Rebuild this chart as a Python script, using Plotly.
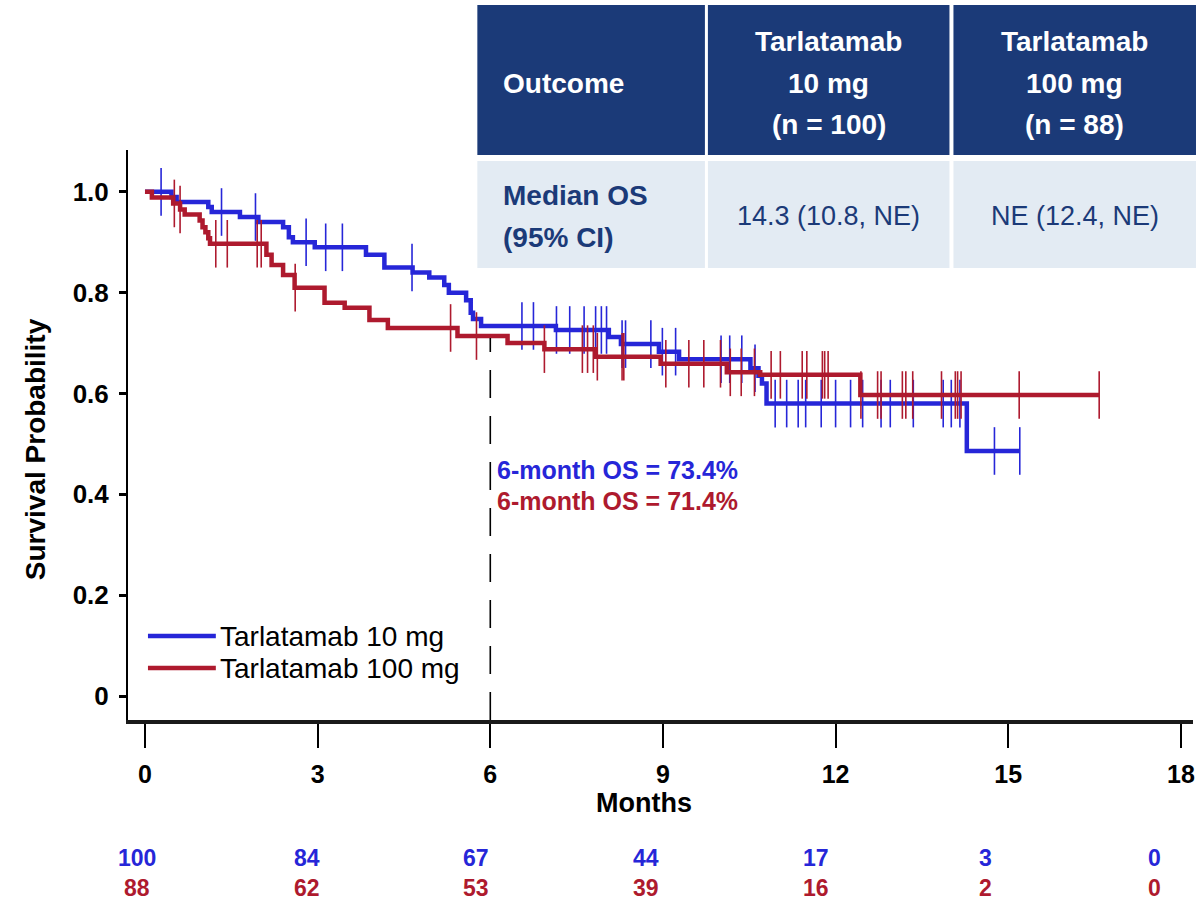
import plotly.graph_objects as go
import numpy as np

# ---------------- data ----------------
# Tarlatamab 10 mg: KM step times (months) and survival
t10 = [0, 0.46, 0.55, 1.10, 1.16, 1.65, 1.97, 2.40, 2.50, 2.57, 2.95, 3.84, 4.16, 4.65, 4.94,
       5.20, 5.28, 5.58, 5.66, 5.70, 5.84, 7.14, 8.06, 8.27, 8.93, 9.28, 10.52, 10.66, 10.72,
       10.80, 14.28, 15.20]
s10 = [1.00, 0.99, 0.98, 0.97, 0.96, 0.95, 0.94, 0.93, 0.91, 0.90, 0.89, 0.875, 0.85, 0.84, 0.83,
       0.815, 0.80, 0.785, 0.76, 0.748, 0.734, 0.726, 0.712, 0.698, 0.683, 0.668, 0.650, 0.635, 0.62,
       0.58, 0.486, 0.486]
c10 = [0.28, 1.33, 1.92, 2.80, 3.14, 3.43, 4.64, 6.55, 6.75, 7.15, 7.38, 7.63, 7.83, 7.93, 8.02,
       8.29, 8.35, 8.79, 8.99, 9.22, 10.01, 10.16, 10.37, 10.60, 10.95, 11.15, 11.35, 11.48, 11.75,
       12.00, 12.26, 12.47, 12.79, 12.95, 13.35, 13.87, 14.01, 14.16, 14.76, 15.20]

# Tarlatamab 100 mg
t100 = [0, 0.12, 0.49, 0.61, 0.69, 0.95, 1.00, 1.05, 1.10, 1.13, 2.11, 2.20, 2.40, 2.60, 3.12,
        3.47, 3.90, 4.22, 5.43, 6.30, 6.94, 7.83, 8.96, 10.11, 10.69, 12.43, 16.58]
s100 = [1.00, 0.989, 0.977, 0.965, 0.955, 0.943, 0.93, 0.92, 0.908, 0.897, 0.875, 0.855, 0.835,
        0.81, 0.78, 0.77, 0.746, 0.73, 0.714, 0.70, 0.688, 0.673, 0.659, 0.642, 0.637, 0.597, 0.597]
c100 = [0.51, 0.61, 1.23, 1.43, 1.95, 2.02, 2.61, 5.31, 5.76, 6.94, 7.60, 7.69, 7.79, 7.86, 8.29,
        8.32, 9.05, 9.45, 9.71, 10.00, 10.17, 10.36, 10.59, 10.88, 11.04, 11.42, 11.50, 11.77, 11.81,
        11.87, 12.44, 12.73, 12.79, 13.16, 13.22, 13.34, 13.84, 14.08, 14.12, 14.18, 15.19, 16.58]

risk_times = [0, 3, 6, 9, 12, 15, 18]
risk10 = [100, 84, 67, 44, 17, 3, 0]
risk100 = [88, 62, 53, 39, 16, 2, 0]

series_names = ["Tarlatamab 10 mg", "Tarlatamab 100 mg"]
os6_labels = ["6-month OS = 73.4%", "6-month OS = 71.4%"]

table_header = [["Outcome"], ["Tarlatamab", "10 mg", "(n = 100)"], ["Tarlatamab", "100 mg", "(n = 88)"]]
table_row = [["Median OS", "(95% CI)"], ["14.3 (10.8, NE)"], ["NE (12.4, NE)"]]

BLUE = "#2626D8"
RED = "#AE1A2E"
NAVY = "#1B3A78"
LIGHT = "#E3EBF3"
FONT = "Liberation Sans, Arial"


def step_value(times, surv, x):
    idx = np.searchsorted(np.array(times), x, side="right") - 1
    return [surv[i] for i in idx]


fig = go.Figure()
for t, s, c, col, name in [(t10, s10, c10, BLUE, series_names[0]),
                           (t100, s100, c100, RED, series_names[1])]:
    fig.add_trace(go.Scatter(x=t, y=s, mode="lines", line=dict(color=col, width=4.5, shape="hv"),
                             name=name, showlegend=False))
    fig.add_trace(go.Scatter(x=c, y=step_value(t, s, c), mode="markers",
                             marker=dict(symbol="line-ns", size=34, line=dict(color=col, width=1.6)),
                             showlegend=False, hoverinfo="skip"))

# plot geometry (pixels)
W, H = 1198, 901
ML, MR, MT, MB = 128, 3, 150, 181
PW, PH = W - ML - MR, H - MT - MB


def px(x):
    return (x - ML) / PW


def py(y):
    return (H - MB - y) / PH


YMIN, YMAX = -0.0476, 1.083
XMIN, XMAX = -0.295, 18.21

shapes = []
# dashed reference line at 6 months
s6 = step_value(t100, s100, [6])[0]
shapes.append(dict(type="line", xref="x", yref="y", x0=6, x1=6, y0=YMIN, y1=s6 - 0.004,
                   line=dict(color="black", width=1.6, dash="28px,18px")))

# legend (manual)
for i, (col, name) in enumerate([(BLUE, series_names[0]), (RED, series_names[1])]):
    yy = 636 + 32 * i
    shapes.append(dict(type="line", xref="paper", yref="paper", x0=px(148), x1=px(216),
                       y0=py(yy), y1=py(yy), line=dict(color=col, width=4.5)))

# table
cols = [(478, 706), (709, 951), (955, 1198)]
for (x0, x1) in cols:
    shapes.append(dict(type="rect", xref="paper", yref="paper", x0=px(x0), x1=px(x1),
                       y0=py(155), y1=py(5), fillcolor=NAVY, line=dict(width=0), layer="above"))
    shapes.append(dict(type="rect", xref="paper", yref="paper", x0=px(x0), x1=px(x1),
                       y0=py(268), y1=py(161), fillcolor=LIGHT, line=dict(width=0), layer="above"))

annotations = []


def ann(x, y, text, size, color, xanchor="center", xref="paper", **kw):
    annotations.append(dict(x=x, y=y, xref=xref, yref="paper", text=text, showarrow=False,
                            xanchor=xanchor, yanchor="middle",
                            font=dict(family=FONT, size=size, color=color), **kw))


for i, (col, name) in enumerate([(BLUE, series_names[0]), (RED, series_names[1])]):
    ann(px(218), py(636 + 32 * i), name, 28, "black", xanchor="left")
for i, (col, lab) in enumerate([(BLUE, os6_labels[0]), (RED, os6_labels[1])]):
    ann(6, py(470 + 31 * i), "<b>%s</b>" % lab, 25, col, xanchor="left", xref="x", xshift=5)

# at-risk numbers
for t, a, b in zip(risk_times, risk10, risk100):
    ann(t, py(858), "<b>%d</b>" % a, 23, BLUE, xref="x", xshift=-8 - t)
    ann(t, py(888), "<b>%d</b>" % b, 23, RED, xref="x", xshift=-8 - t)

# table text
LINE = 41.5
for (x0, x1), lines in zip(cols, table_header):
    n = len(lines)
    for k, ln in enumerate(lines):
        yy = 83 + (k - (n - 1) / 2) * LINE
        if x0 == cols[0][0]:
            ann(px(502), py(yy), "<b>%s</b>" % ln, 28, "white", xanchor="left")
        else:
            ann(px((x0 + x1) / 2), py(yy), "<b>%s</b>" % ln, 28, "white")
for (x0, x1), lines in zip(cols, table_row):
    n = len(lines)
    for k, ln in enumerate(lines):
        yy = 216 + (k - (n - 1) / 2) * 42
        if x0 == cols[0][0]:
            ann(px(502), py(yy), "<b>%s</b>" % ln, 28, NAVY, xanchor="left")
        else:
            ann(px((x0 + x1) / 2), py(yy), ln, 27, NAVY)

# axis titles
ann(9, py(803), "<b>Months</b>", 27, "black", xref="x", xshift=-19)
ann(px(35), py(449), "<b>Survival Probability</b>", 28, "black", textangle=-90)

fig.update_layout(
    width=W, height=H, margin=dict(l=ML, r=MR, t=MT, b=MB),
    plot_bgcolor="white", paper_bgcolor="white",
    shapes=shapes, annotations=annotations, showlegend=False,
    xaxis=dict(range=[XMIN, XMAX], tickvals=risk_times, ticktext=["<b>%d</b>" % v for v in risk_times],
               ticks="outside", ticklen=24, tickwidth=1.5, tickcolor="black",
               showline=True, linecolor="#1a1a1a", linewidth=4, showgrid=False, zeroline=False,
               tickfont=dict(family=FONT, size=25, color="black"), ticklabelstandoff=5),
    yaxis=dict(range=[YMIN, YMAX], tickvals=[0, 0.2, 0.4, 0.6, 0.8, 1.0],
               ticktext=["<b>0</b>", "<b>0.2</b>", "<b>0.4</b>", "<b>0.6</b>", "<b>0.8</b>", "<b>1.0</b>"],
               ticks="outside", ticklen=7, tickwidth=3, tickcolor="black",
               showline=True, linecolor="black", linewidth=2, showgrid=False, zeroline=False,
               tickfont=dict(family=FONT, size=26, color="black"), ticklabelstandoff=5),
)

fig.write_html("out.html", config={"displayModeBar": False},
               post_script="document.body.style.margin='0';")
